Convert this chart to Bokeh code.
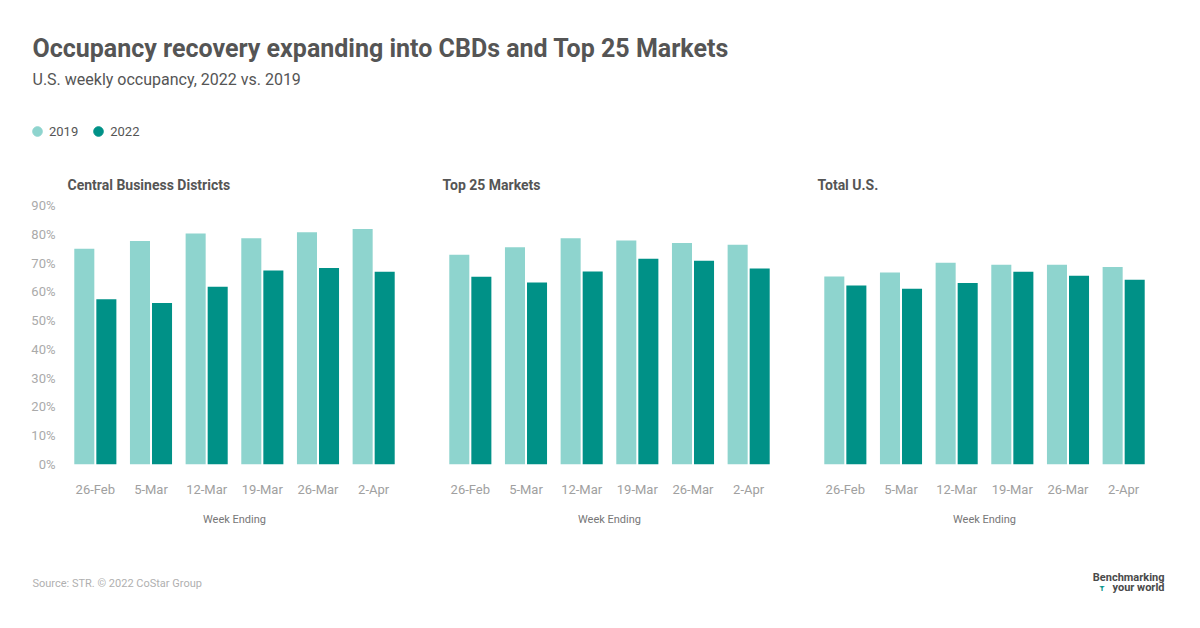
from bokeh.plotting import figure
from bokeh.models import (Range1d, FactorRange, Label, Legend, LegendItem,
                          FixedTicker, PrintfTickFormatter, ColumnDataSource)
from bokeh.layouts import column, row
from bokeh.transform import dodge
from bokeh.embed import file_html
from bokeh.resources import INLINE

# ---------------- data ----------------
weeks = ["26-Feb", "5-Mar", "12-Mar", "19-Mar", "26-Mar", "2-Apr"]
series_names = ["2019", "2022"]
cbd_2019 = [75.0, 77.7, 80.3, 78.6, 80.7, 81.8]
cbd_2022 = [57.4, 56.1, 61.8, 67.4, 68.3, 67.0]
top25_2019 = [72.9, 75.5, 78.6, 77.8, 77.0, 76.4]
top25_2022 = [65.2, 63.2, 67.1, 71.5, 70.8, 68.1]
total_2019 = [65.3, 66.7, 70.1, 69.4, 69.4, 68.6]
total_2022 = [62.2, 61.1, 63.1, 67.0, 65.6, 64.2]
panel_titles = ["Central Business Districts", "Top 25 Markets", "Total U.S."]
y_ticks = [0, 10, 20, 30, 40, 50, 60, 70, 80, 90]

# ---------------- style ----------------
FONT = "Roboto"
C19 = "#8ed4ce"
C22 = "#009187"
DARK = "#555555"
W = 1200
HH = 195
PANEL_W = [421, 375, 396]
PANEL_BL = [67, 21, 21]
PANEL_BR = [20, 20, 41]

# ---------------- header ----------------
header = figure(width=W, height=HH, x_range=Range1d(0, W), y_range=Range1d(HH, 0),
                output_backend="svg", toolbar_location=None, min_border=0,
                outline_line_color=None)
header.axis.visible = False
header.grid.visible = False
header.add_layout(Label(x=32, y=48, text="Occupancy recovery expanding into CBDs and Top 25 Markets",
                        text_font=FONT, text_font_size="25px", text_font_style="bold",
                        text_color=DARK, text_baseline="middle", text_align="left"))
header.add_layout(Label(x=32, y=79, text="U.S. weekly occupancy, 2022 vs. 2019",
                        text_font=FONT, text_font_size="16px", text_color=DARK,
                        text_baseline="middle", text_align="left"))
# panel titles, aligned with each panel's plot frame
x0 = 0
for t, w, bl in zip(panel_titles, PANEL_W, PANEL_BL):
    header.add_layout(Label(x=x0 + bl, y=184, text=t, text_font=FONT, text_font_size="14px",
                            text_font_style="bold", text_color=DARK,
                            text_baseline="middle", text_align="left"))
    x0 += w
# legend-only renderers (hidden; they only supply the swatches)
r19 = header.scatter(x=[0], y=[0], marker="circle", color=C19, visible=False)
r22 = header.scatter(x=[0], y=[0], marker="circle", color=C22, visible=False)
legend = Legend(items=[LegendItem(label=series_names[0], renderers=[r19]),
                       LegendItem(label=series_names[1], renderers=[r22])],
                orientation="horizontal", location=(25, HH - 143),
                glyph_width=24, glyph_height=24, label_standoff=0, spacing=8,
                padding=0, margin=0, border_line_color=None, background_fill_alpha=0,
                inactive_fill_alpha=0,
                label_text_font=FONT, label_text_font_size="13px", label_text_color=DARK)
header.add_layout(legend)


# ---------------- panels ----------------
def make_panel(v19, v22, width, bl, br, show_y):
    src = ColumnDataSource(dict(week=weeks, y19=v19, y22=v22))
    p = figure(x_range=FactorRange(*weeks, range_padding=0), y_range=Range1d(0, 90),
               width=width, height=345, min_border_left=bl, min_border_right=br,
               min_border_top=10, min_border_bottom=76,
               output_backend="svg", toolbar_location=None, outline_line_color=None)
    p.vbar(x=dodge("week", -0.198, range=p.x_range), top="y19", width=0.36,
           source=src, color=C19, line_color=None)
    p.vbar(x=dodge("week", 0.198, range=p.x_range), top="y22", width=0.36,
           source=src, color=C22, line_color=None)
    p.grid.visible = False
    xa = p.xaxis[0]
    xa.axis_line_color = None
    xa.major_tick_line_color = None
    xa.major_tick_out = 0
    xa.major_label_standoff = 17
    xa.major_label_text_font = FONT
    xa.major_label_text_font_size = "13px"
    xa.major_label_text_color = "#a0a0a0"
    xa.axis_label = "Week Ending"
    xa.axis_label_text_font = FONT
    xa.axis_label_text_font_size = "11px"
    xa.axis_label_text_font_style = "normal"
    xa.axis_label_text_color = "#777777"
    xa.axis_label_standoff = 13
    ya = p.yaxis[0]
    if show_y:
        ya.ticker = FixedTicker(ticks=y_ticks)
        ya.formatter = PrintfTickFormatter(format="%d%%")
        ya.axis_line_color = None
        ya.major_tick_line_color = None
        ya.minor_tick_line_color = None
        ya.major_tick_out = 0
        ya.major_label_standoff = 12
        ya.major_label_text_font = FONT
        ya.major_label_text_font_size = "13px"
        ya.major_label_text_color = "#aaaaaa"
    else:
        ya.visible = False
    return p


p1 = make_panel(cbd_2019, cbd_2022, PANEL_W[0], PANEL_BL[0], PANEL_BR[0], True)
p2 = make_panel(top25_2019, top25_2022, PANEL_W[1], PANEL_BL[1], PANEL_BR[1], False)
p3 = make_panel(total_2019, total_2022, PANEL_W[2], PANEL_BL[2], PANEL_BR[2], False)

# ---------------- footer ----------------
FH = 80
footer = figure(width=W, height=FH, x_range=Range1d(0, W), y_range=Range1d(FH, 0),
                output_backend="svg", toolbar_location=None, min_border=0,
                outline_line_color=None)
footer.axis.visible = False
footer.grid.visible = False
footer.add_layout(Label(x=32, y=43, text="Source: STR. © 2022 CoStar Group",
                        text_font=FONT, text_font_size="11px", text_color="#b0b0b0",
                        text_baseline="middle", text_align="left"))
footer.add_layout(Label(x=1164, y=37, text="Benchmarking",
                        text_font=FONT, text_font_size="11px", text_font_style="bold",
                        text_color="#4a4a4a", text_baseline="middle", text_align="right"))
footer.add_layout(Label(x=1164, y=47, text="your world",
                        text_font=FONT, text_font_size="11px", text_font_style="bold",
                        text_color="#4a4a4a", text_baseline="middle", text_align="right"))
footer.add_layout(Label(x=1099, y=48, text="Ŧ",
                        text_font=FONT, text_font_size="8px", text_font_style="bold",
                        text_color=C22, text_baseline="middle", text_align="left"))

layout = column(header, row(p1, p2, p3), footer)
open("out.html", "w").write(file_html(layout, INLINE))
